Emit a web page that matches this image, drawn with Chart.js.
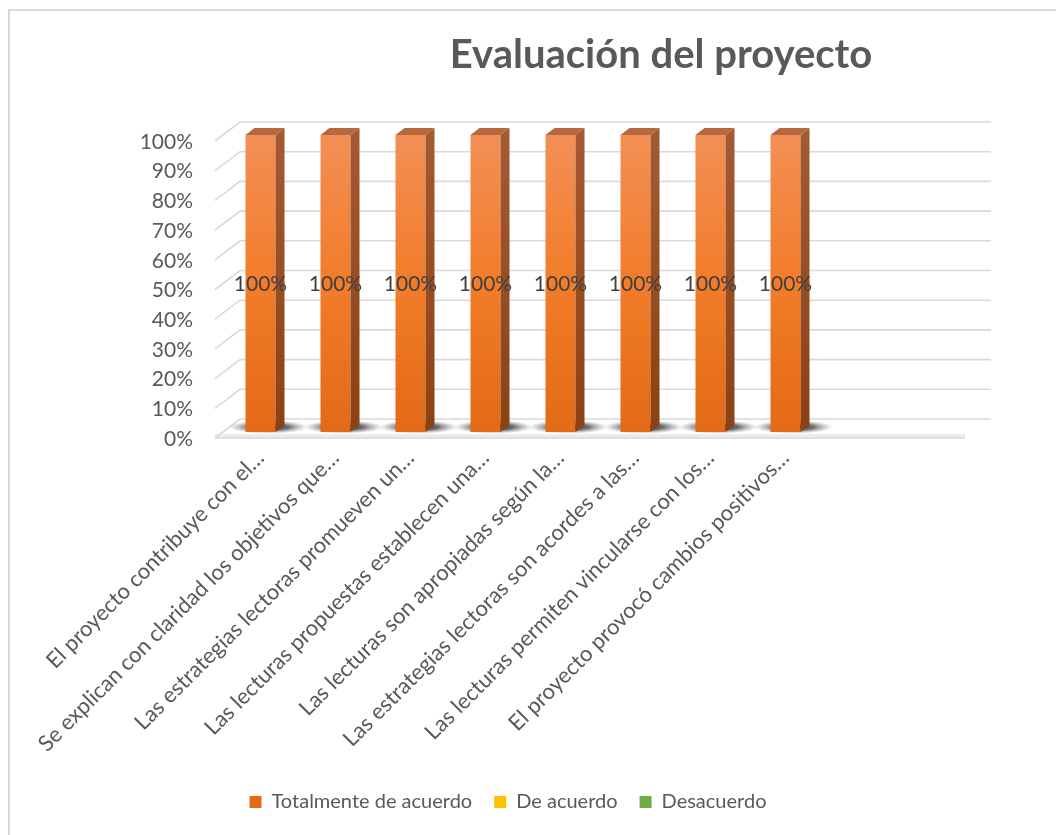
<!DOCTYPE html>
<html>
<head>
<meta charset="utf-8">
<script src="https://cdn.jsdelivr.net/npm/chart.js@4"></script>
<style>
  html, body { margin: 0; padding: 0; background: #fff; overflow: hidden; }
  #wrap { position: relative; width: 1056px; height: 835px; }
</style>
</head>
<body>
<div id="wrap"><canvas id="grafico" width="1056" height="835"></canvas></div>
<script>
// datos del gráfico
const categorias = [
    'El proyecto contribuye con el…',
    'Se explican con claridad los objetivos que…',
    'Las estrategias lectoras promueven un…',
    'Las lecturas propuestas establecen una…',
    'Las lecturas son apropiadas según la…',
    'Las estrategias lectoras son acordes a las…',
    'Las lecturas permiten vincularse con los…',
    'El proyecto provocó cambios positivos…',
    '', ''
];
const totalmente = [1, 1, 1, 1, 1, 1, 1, 1];
const deAcuerdo = [0, 0, 0, 0, 0, 0, 0, 0];
const desacuerdo = [0, 0, 0, 0, 0, 0, 0, 0];
const ticksY = [0, 0.1, 0.2, 0.3, 0.4, 0.5, 0.6, 0.7, 0.8, 0.9, 1];

const FUENTE = 'Lato';
const GRIS = '#d9d9d9';

// profundidad del efecto 3D
const frente = { dx: -8, dy: 6 };
const fondo = { dx: 17, dy: -13 };
const barra3d = { dx: 9, dy: -7 };

// paredes, suelo y lineas de division
const paredes = {
    id: 'paredes',
    beforeDatasetsDraw(chart) {
        const ctx = chart.ctx;
        const area = chart.chartArea;
        const y = chart.scales.y;
        ctx.save();
        // marco del grafico
        ctx.strokeStyle = GRIS;
        ctx.lineWidth = 2;
        ctx.strokeRect(9, 10, 1200, 1000);

        // suelo
        const y0 = y.getPixelForValue(0);
        ctx.fillStyle = '#ececec';
        ctx.beginPath();
        ctx.moveTo(area.left + frente.dx, y0 + frente.dy - 4);
        ctx.lineTo(area.right + frente.dx, y0 + frente.dy - 4);
        ctx.lineTo(area.right + frente.dx, y0 + frente.dy);
        ctx.lineTo(area.left + frente.dx, y0 + frente.dy);
        ctx.fill();

        ctx.strokeStyle = GRIS;
        ctx.lineWidth = 1.6;
        ticksY.forEach(v => {
            const py = y.getPixelForValue(v);
            ctx.beginPath();
            ctx.moveTo(area.left + frente.dx, py + frente.dy);
            ctx.lineTo(area.left + fondo.dx, py + fondo.dy);
            ctx.lineTo(area.right + fondo.dx + 1, py + fondo.dy);
            ctx.stroke();
        });
        ctx.beginPath();
        ctx.moveTo(area.left + frente.dx, y0 + frente.dy);
        ctx.lineTo(area.right + frente.dx, y0 + frente.dy);
        ctx.stroke();

        // sombras bajo las barras
        const meta = chart.getDatasetMeta(0);
        meta.data.forEach(bar => {
            const cx = bar.x + 8;
            const cy = bar.base - 5;
            const g = ctx.createRadialGradient(cx, cy, 0, cx, cy, 40);
            g.addColorStop(0, 'rgba(20,20,20,0.95)');
            g.addColorStop(0.5, 'rgba(50,50,50,0.7)');
            g.addColorStop(0.8, 'rgba(110,110,110,0.3)');
            g.addColorStop(1, 'rgba(150,150,150,0)');
            ctx.save();
            ctx.translate(cx, cy);
            ctx.scale(1, 0.17);
            ctx.translate(-cx, -cy);
            ctx.fillStyle = g;
            ctx.beginPath();
            ctx.arc(cx, cy, 40, 0, Math.PI * 2);
            ctx.fill();
            ctx.restore();
        });
        ctx.restore();
    }
};

// caras laterales y superiores de las barras, y etiquetas
const caras = {
    id: 'caras',
    afterDatasetsDraw(chart) {
        const ctx = chart.ctx;
        const meta = chart.getDatasetMeta(0);
        ctx.save();
        meta.data.forEach((bar, i) => {
            if (!totalmente[i]) return;
            const izq = bar.x - bar.width / 2;
            const der = bar.x + bar.width / 2;
            // lateral
            const gl = ctx.createLinearGradient(0, bar.y, 0, bar.base);
            gl.addColorStop(0, '#a35a33');
            gl.addColorStop(1, '#8c4113');
            ctx.fillStyle = gl;
            ctx.beginPath();
            ctx.moveTo(der, bar.base);
            ctx.lineTo(der, bar.y);
            ctx.lineTo(der + barra3d.dx, bar.y + barra3d.dy);
            ctx.lineTo(der + barra3d.dx, bar.base + barra3d.dy);
            ctx.closePath();
            ctx.fill();
            // tapa
            ctx.fillStyle = '#b7683d';
            ctx.beginPath();
            ctx.moveTo(izq, bar.y);
            ctx.lineTo(der, bar.y);
            ctx.lineTo(der + barra3d.dx, bar.y + barra3d.dy);
            ctx.lineTo(izq + barra3d.dx, bar.y + barra3d.dy);
            ctx.closePath();
            ctx.fill();
        });
        // etiquetas de datos
        ctx.fillStyle = '#404040';
        ctx.font = '21px ' + FUENTE;
        ctx.textAlign = 'center';
        ctx.textBaseline = 'middle';
        meta.data.forEach((bar, i) => {
            if (totalmente[i] == null) return;
            ctx.fillText(Math.round(totalmente[i] * 100) + '%', bar.x, (bar.y + bar.base) / 2 + 1);
        });
        ctx.restore();
    }
};

// mover titulo y leyenda como en el original
const ajustes = {
    id: 'ajustes',
    afterLayout(chart) {
        if (chart.titleBlock) chart.titleBlock.left = 349;
        if (chart.legend) chart.legend.left = 43;
    }
};

function fondoNaranja(c) {
    const area = c.chart.chartArea;
    if (!area || c.type !== 'data') return '#ed7d31';
    const g = c.chart.ctx.createLinearGradient(0, area.top, 0, area.bottom);
    g.addColorStop(0, '#f38f56');
    g.addColorStop(0.5, '#f27c29');
    g.addColorStop(1, '#e36a17');
    return g;
}

const ctx = document.getElementById('grafico').getContext('2d');
new Chart(ctx, {
    type: 'bar',
    data: {
        labels: categorias,
        datasets: [
            { label: 'Totalmente de acuerdo', data: totalmente, backgroundColor: fondoNaranja },
            { label: 'De acuerdo', data: deAcuerdo, backgroundColor: '#ffc000' },
            { label: 'Desacuerdo', data: desacuerdo, backgroundColor: '#70ad47' }
        ]
    },
    options: {
        responsive: false,
        animation: false,
        events: [],
        devicePixelRatio: 1,
        layout: { padding: { left: 0, right: 83, top: 0, bottom: 13 } },
        datasets: {
            bar: { grouped: false, barPercentage: 0.4, categoryPercentage: 1, borderWidth: 0 }
        },
        scales: {
            x: {
                grid: { display: false },
                border: { display: false },
                ticks: {
                    autoSkip: false,
                    minRotation: 45,
                    maxRotation: 45,
                    padding: 5,
                    color: '#595959',
                    font: { family: FUENTE, size: 22 }
                },
                afterFit(scale) { scale.height = 338; }
            },
            y: {
                min: 0,
                max: 1,
                grid: { display: false },
                border: { display: false },
                ticks: {
                    stepSize: 0.1,
                    padding: 22,
                    labelOffset: 7,
                    color: '#595959',
                    font: { family: FUENTE, size: 21 },
                    callback: v => Math.round(v * 100) + '%'
                },
                afterFit(scale) { scale.width = 223; }
            }
        },
        plugins: {
            title: {
                display: true,
                text: 'Evaluación del proyecto',
                color: '#595959',
                font: { family: FUENTE, size: 40, weight: 'bold' },
                padding: { top: 31, bottom: 56 }
            },
            legend: {
                position: 'bottom',
                labels: {
                    boxWidth: 12,
                    boxHeight: 12,
                    padding: 22,
                    color: '#595959',
                    font: { family: FUENTE, size: 20 }
                }
            },
            tooltip: { enabled: false }
        }
    },
    plugins: [paredes, caras, ajustes]
});
</script>
</body>
</html>
